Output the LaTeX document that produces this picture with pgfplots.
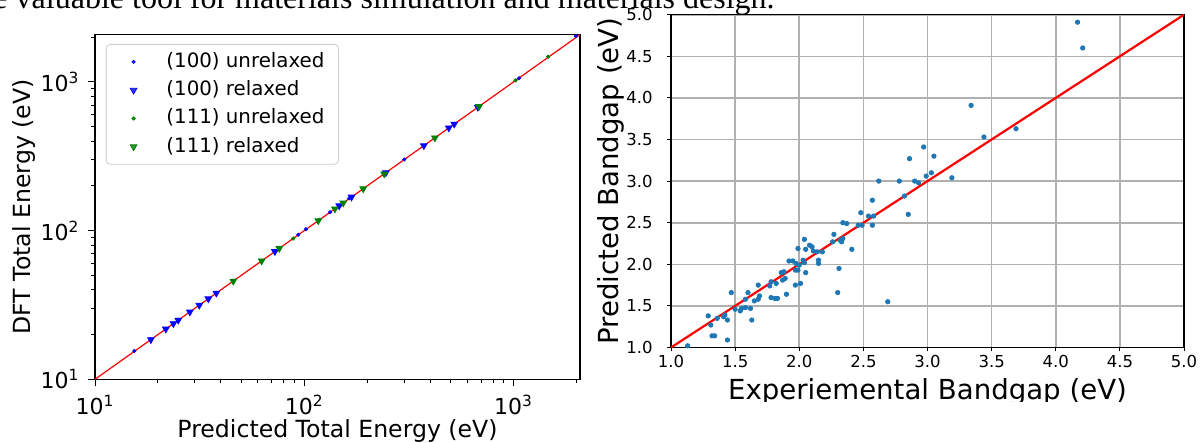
\documentclass[border=0pt]{standalone}
\usepackage{fontspec}
\setmainfont{DejaVu Sans}
\newfontfamily\serifdoc{Liberation Serif}
\usepackage{pgfplots}
\pgfplotsset{compat=1.18}
\definecolor{tabblue}{HTML}{1F77B4}
\definecolor{mplgreen}{HTML}{008000}
\definecolor{gridgray}{HTML}{B0B0B0}
\definecolor{legedge}{HTML}{CCCCCC}
\pgfplotsset{mylegimg/.style={legend image code/.code={\draw[##1] plot coordinates {(0.3cm,0cm)}; \path (0cm,0cm) (0.8cm,0cm);}}}
\begin{document}
\begin{tikzpicture}
\useasboundingbox (0,0) rectangle (601pt,221.5pt);
\clip (0,0) rectangle (601pt,221.5pt);
\node[anchor=base east, font=\serifdoc\fontsize{16}{19}\selectfont, inner sep=0pt] at (387.5pt,217.3pt) {e valuable tool for materials simulation and materials design.};

% ---------------- left chart ----------------
\begin{axis}[
  at={(47.5pt,31.85pt)}, anchor=south west,
  scale only axis, width=242.5pt, height=172.3pt,
  xmode=log, ymode=log,
  xmin=10, xmax=2080, ymin=10, ymax=2080,
  xtick={10,100,1000}, ytick={10,100,1000},
  xticklabels={10\textsuperscript{1},10\textsuperscript{2},10\textsuperscript{3}},
  yticklabels={10\textsuperscript{1},10\textsuperscript{2},10\textsuperscript{3}},
  minor xtick={20,30,40,50,60,70,80,90,200,300,400,500,600,700,800,900,2000},
  minor ytick={20,30,40,50,60,70,80,90,200,300,400,500,600,700,800,900,2000},
  tick pos=left, tick align=outside,
  major tick length=3.5pt, minor tick length=2pt,
  every tick/.style={black, line width=0.5pt},
  axis line style={line width=0.6pt},
  ticklabel style={font=\fontsize{11}{13}\selectfont},
  xticklabel style={anchor=center, inner sep=0pt, yshift=-9.35pt},
  yticklabel style={anchor=east, inner sep=0pt, xshift=-4.15pt},
  xlabel={Predicted Total Energy (eV)},
  ylabel={DFT Total Energy (eV)},
  label style={font=\fontsize{11.8}{14}\selectfont},
  xlabel style={at={(axis description cs:0.5,-0.1703)}, anchor=base, inner sep=0pt},
  ylabel style={at={(axis description cs:-0.1464,0.5)}, anchor=center, inner sep=0pt},
  legend style={at={(0.0221,0.973)}, anchor=north west, draw=legedge, rounded corners=2pt,
    fill=white, fill opacity=0.8, text opacity=1, font=\fontsize{9.9}{12}\selectfont,
    inner xsep=5pt, inner ysep=3pt, row sep=2.65pt,
    nodes={inner ysep=0.5pt, text height=8pt, text depth=2.5pt}},
  legend cell align=left,
]
\addplot[only marks, mark=*, mark size=0.8pt, color=blue, mylegimg] coordinates {
(15.4,15.5) (18.5,18.6) (21.8,21.9) (23.7,23.6) (25.0,25.1) (28.4,28.3) (31.5,31.6)
(34.8,34.7) (38.0,38.1) (72.4,72.0) (93.6,93.8) (101.9,102.3) (132.7,133.0) (147,146)
(164,165) (168.3,168.0) (245,246) (300.6,301) (373,372) (491,489) (521,523) (676,678)
(1064,1060) (1986,2040)
};
\addlegendentry{(100) unrelaxed}
\addplot[only marks, mark=triangle*, mark size=1.9pt, mark options={rotate=180}, color=blue, mylegimg] coordinates {
(18.5,18.5) (21.8,21.8) (23.7,23.7) (25.0,25.0) (28.4,28.4) (31.5,31.5) (34.8,34.8)
(38.0,38.0) (72.4,72.4) (147,147) (168.3,168.3) (245.5,245.5) (373,373) (491,491)
(521,521) (676,676)
};
\addlegendentry{(100) relaxed}
\addplot[only marks, mark=*, mark size=0.8pt, color=mplgreen, mylegimg] coordinates {
(45.8,45.9) (76.0,76.2) (88.6,88.4) (118,118.4) (191.4,191.0) (241,241.5) (421,420)
(685,684) (1023,1025) (1466,1480)
};
\addlegendentry{(111) unrelaxed}
\addplot[only marks, mark=triangle*, mark size=1.9pt, mark options={rotate=180}, color=mplgreen, mylegimg] coordinates {
(45.8,45.8) (62.6,62.6) (76.0,76.0) (116.7,116.7) (140.2,140.2) (153.6,153.6)
(191.4,191.4) (241,241) (421,421) (685,685)
};
\addlegendentry{(111) relaxed}
\addplot[red, line width=0.6pt, forget plot] coordinates {(10,10) (2080,2080)};
\end{axis}

% ---------------- right chart ----------------
\begin{axis}[
  at={(335.5pt,47.75pt)}, anchor=south west,
  scale only axis, width=256.5pt, height=166.4pt,
  xmin=1, xmax=5, ymin=1, ymax=5,
  xtick={1,1.5,2,2.5,3,3.5,4,4.5,5},
  ytick={1,1.5,2,2.5,3,3.5,4,4.5,5},
  xticklabels={1.0,1.5,2.0,2.5,3.0,3.5,4.0,4.5,5.0},
  yticklabels={1.0,1.5,2.0,2.5,3.0,3.5,4.0,4.5,5.0},
  grid=major, major grid style={gridgray, line width=0.8pt},
  tick pos=left, tick align=outside, major tick length=2pt,
  every tick/.style={black, line width=0.5pt},
  axis line style={line width=0.75pt},
  ticklabel style={font=\fontsize{8.25}{10}\selectfont},
  xticklabel style={anchor=center, inner sep=0pt, yshift=-4.85pt},
  yticklabel style={anchor=east, inner sep=0pt, xshift=-7pt},
  xlabel={Experiemental Bandgap (eV)},
  ylabel={Predicted Bandgap (eV)},
  label style={font=\fontsize{13.8}{16}\selectfont},
  xlabel style={at={(axis description cs:0.5,-0.1556)}, anchor=base, inner sep=0pt},
  ylabel style={at={(axis description cs:-0.117,0.5)}, anchor=center, inner sep=0pt},
]
\addplot[only marks, mark=*, mark size=1.1pt, color=tabblue] coordinates {
(1.13,1.02) (1.32,1.14) (1.34,1.14) (1.44,1.09) (1.31,1.27) (1.29,1.38) (1.36,1.35)
(1.41,1.37) (1.42,1.39) (1.44,1.33) (1.47,1.66) (1.50,1.46) (1.54,1.44) (1.55,1.47)
(1.58,1.48) (1.62,1.47) (1.63,1.33) (1.60,1.66) (1.58,1.58) (1.65,1.56) (1.68,1.58)
(1.68,1.75) (1.69,1.62) (1.77,1.74) (1.78,1.60) (1.81,1.59) (1.83,1.59) (1.78,1.79)
(1.82,1.77) (1.87,1.81) (1.89,1.83) (1.90,1.64) (1.86,1.90) (1.88,1.91) (1.92,2.04)
(1.95,2.04) (1.97,1.93) (1.99,1.93) (1.975,2.01) (2.00,1.99) (1.97,1.75) (2.01,1.77)
(1.99,2.19) (2.03,2.05) (2.04,2.30) (2.05,2.18) (2.05,1.90) (2.08,2.23) (2.10,2.21)
(2.11,2.16) (2.14,2.15) (2.15,2.05) (2.15,2.01) (2.18,2.15) (2.04,2.02) (2.27,2.36)
(2.26,2.27) (2.32,2.29) (2.34,2.31) (2.33,2.27) (2.41,2.18) (2.31,1.95) (2.30,1.66)
(2.69,1.55) (2.34,2.50) (2.37,2.49) (2.46,2.47) (2.49,2.47) (2.57,2.47) (2.48,2.62)
(2.54,2.58) (2.58,2.58) (2.85,2.60) (2.57,2.77) (2.82,2.82) (2.62,3.00) (2.78,3.00)
(2.90,3.00) (2.93,2.98) (2.99,3.06) (3.03,3.10) (3.19,3.04) (2.86,3.27) (2.97,3.41)
(3.05,3.30) (3.44,3.53) (3.34,3.91) (3.69,3.63) (4.17,4.91) (4.21,4.60)
};
\addplot[red, line width=1.1pt] coordinates {(1,1) (5,5)};
\end{axis}
\fill[white] (295pt,0pt) rectangle (601pt,20.65pt);
\end{tikzpicture}
\end{document}
